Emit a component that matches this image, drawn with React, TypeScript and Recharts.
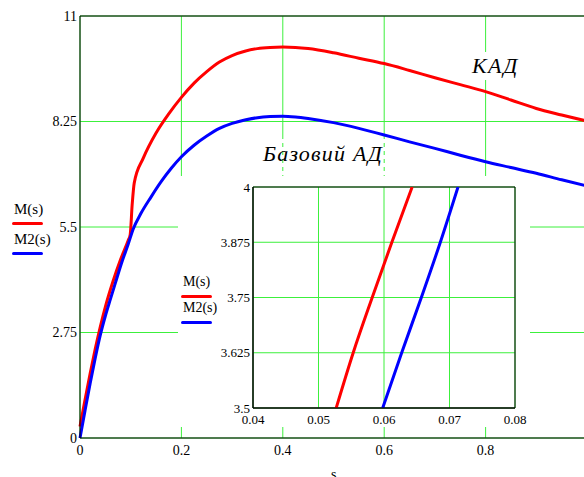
import { LineChart, Line, XAxis, YAxis, CartesianGrid, ReferenceLine, ReferenceArea } from "recharts";

// main plot: M(s) (КАД) and M2(s) (базовий АД)
const sM = [0, 0.01, 0.02, 0.03, 0.04, 0.05, 0.065, 0.08, 0.095, 0.099, 0.103, 0.107, 0.125, 0.15, 0.175, 0.2, 0.225, 0.25, 0.275, 0.3, 0.325, 0.35, 0.375, 0.4, 0.425, 0.45, 0.5, 0.55, 0.6, 0.65, 0.7, 0.75, 0.8, 0.85, 0.9, 0.95, 1];
const valM = [0.3, 1.0, 1.68, 2.32, 2.9, 3.42, 4.08, 4.65, 5.15, 5.3, 6.1, 6.65, 7.3, 7.95, 8.45, 8.88, 9.25, 9.55, 9.8, 9.97, 10.08, 10.15, 10.18, 10.19, 10.18, 10.15, 10.04, 9.9, 9.76, 9.58, 9.39, 9.21, 9.03, 8.81, 8.59, 8.42, 8.26];
const sM2 = [0, 0.01, 0.02, 0.03, 0.04, 0.05, 0.06, 0.07, 0.083, 0.095, 0.105, 0.12, 0.14, 0.16, 0.18, 0.2, 0.225, 0.25, 0.275, 0.3, 0.325, 0.35, 0.375, 0.4, 0.425, 0.45, 0.5, 0.55, 0.6, 0.65, 0.7, 0.75, 0.8, 0.85, 0.9, 0.95, 1];
const valM2 = [0, 0.72, 1.42, 2.08, 2.68, 3.18, 3.62, 4.05, 4.6, 5.05, 5.45, 5.85, 6.28, 6.68, 7.03, 7.33, 7.63, 7.87, 8.07, 8.2, 8.29, 8.35, 8.38, 8.39, 8.37, 8.33, 8.22, 8.07, 7.9, 7.72, 7.55, 7.37, 7.2, 7.05, 6.9, 6.73, 6.57];
const xTicks = [0, 0.2, 0.4, 0.6, 0.8];
const yTicks = [0, 2.75, 5.5, 8.25, 11];

// zoomed window
const zVal = [3.5, 3.625, 3.75, 3.875, 4];
const zsM = [0.0527, 0.0553, 0.0582, 0.0612, 0.0643];
const zsM2 = [0.0598, 0.0627, 0.0657, 0.0686, 0.0713];
const zxTicks = [0.04, 0.05, 0.06, 0.07, 0.08];
const zyTicks = [3.5, 3.625, 3.75, 3.875, 4];

const mainM = sM.map((s, i) => ({ s, v: valM[i] }));
const mainM2 = sM2.map((s, i) => ({ s, v: valM2[i] }));
const zoomM = zsM.map((s, i) => ({ s, v: zVal[i] }));
const zoomM2 = zsM2.map((s, i) => ({ s, v: zVal[i] }));

const GRID = "#3cf03c";
const FONT = "'Liberation Serif', 'Times New Roman', serif";

// M(s) / M2(s) legend, positions relative to parent
function LegendBox({ left, top, size, gap }: { left: number; top: number; size: number; gap: number }) {
  const txt = { position: "absolute" as const, left: left + 2, fontFamily: FONT, fontSize: size, lineHeight: 1, color: "#000", whiteSpace: "nowrap" as const };
  const bar = { position: "absolute" as const, left, width: 31, height: 3, borderRadius: 2 };
  return (
    <>
      <div style={{ ...txt, top }}>M(s)</div>
      <div style={{ ...bar, top: top + 20, background: "#ff0000" }} />
      <div style={{ ...txt, top: top + gap }}>M2(s)</div>
      <div style={{ ...bar, top: top + gap + 20, background: "#0000ff" }} />
    </>
  );
}

export default function App() {
  const tickStyle = { fill: "#000", fontSize: 14, fontFamily: FONT };
  const zTickStyle = { fill: "#000", fontSize: 13, fontFamily: FONT };
  return (
    <div style={{ position: "absolute", left: 0, top: 0, width: 584, height: 477, overflow: "hidden", background: "#fff", fontFamily: FONT }}>
      <LineChart width={600} height={477} margin={{ top: 16, right: 13, bottom: 0, left: 0 }} style={{ fontFamily: FONT }}>
        <CartesianGrid stroke={GRID} strokeWidth={1} />
        <XAxis dataKey="s" type="number" domain={[0, 1]} ticks={xTicks} height={39} tickSize={0} tickMargin={7}
          axisLine={{ stroke: "#000" }} tickLine={false} tick={tickStyle} />
        <YAxis type="number" domain={[0, 11]} ticks={yTicks} width={80} tickSize={0} tickMargin={3}
          axisLine={{ stroke: "#000" }} tickLine={false} tick={tickStyle} />
        <ReferenceLine y={11} stroke="#000" />
        <Line data={mainM} dataKey="v" type="monotone" stroke="#ff0000" strokeWidth={3} dot={false} isAnimationActive={false} />
        <Line data={mainM2} dataKey="v" type="monotone" stroke="#0000ff" strokeWidth={3} dot={false} isAnimationActive={false} />
      </LineChart>

      <LegendBox left={12} top={202} size={15} gap={30} />

      <div style={{ position: "absolute", left: 472, top: 52, padding: "2px 0", background: "#fff", fontFamily: FONT, fontStyle: "italic", fontSize: 22, letterSpacing: 1.5, lineHeight: 1.1 }}>
        КАД
      </div>
      <div style={{
        position: "absolute", left: 262, top: 139, width: 126, height: 38,
        background: "repeating-linear-gradient(to bottom, #fff 0px, #fff 4px, transparent 4px, transparent 8px)",
      }} />
      <div style={{ position: "absolute", left: 263, top: 142, fontFamily: FONT, fontStyle: "italic", fontSize: 22, letterSpacing: 1.2, lineHeight: 1.1, whiteSpace: "nowrap" }}>
        Базовий АД
      </div>

      <div style={{ position: "absolute", left: 178, top: 176, width: 352, height: 251, background: "#fff" }}>
        <LineChart width={352} height={251} margin={{ top: 11, right: 15, bottom: 0, left: 0 }} style={{ fontFamily: FONT }}>
          <CartesianGrid stroke={GRID} strokeWidth={1} />
          <ReferenceArea x1={0.04} x2={0.08} y1={3.5} y2={4} fill="none" stroke="#000" strokeWidth={1} />
          <XAxis dataKey="s" type="number" domain={[0.04, 0.08]} ticks={zxTicks} height={19} tickSize={0} tickMargin={7}
            axisLine={{ stroke: "#000" }} tickLine={false} tick={zTickStyle} allowDataOverflow />
          <YAxis type="number" domain={[3.5, 4]} ticks={zyTicks} width={75} tickSize={0} tickMargin={3}
            axisLine={{ stroke: "#000" }} tickLine={false} tick={zTickStyle} allowDataOverflow />
          <Line data={zoomM} dataKey="v" type="monotone" stroke="#ff0000" strokeWidth={3} dot={false} isAnimationActive={false} />
          <Line data={zoomM2} dataKey="v" type="monotone" stroke="#0000ff" strokeWidth={3} dot={false} isAnimationActive={false} />
        </LineChart>
        <LegendBox left={3} top={99} size={14} gap={26} />
      </div>

      <div style={{ position: "absolute", left: 331, top: 468, fontFamily: FONT, fontSize: 14, lineHeight: 1 }}>s</div>
    </div>
  );
}
